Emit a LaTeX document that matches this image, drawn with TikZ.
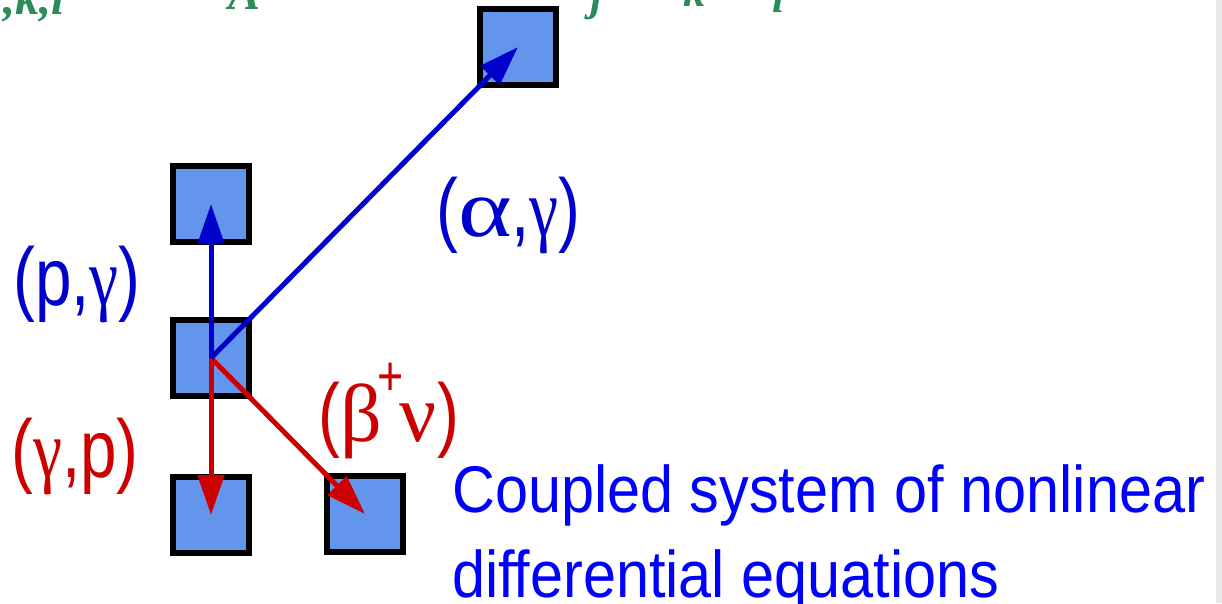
\documentclass[tikz,border=0pt]{standalone}
\usepackage{fontspec}
\setmainfont{Liberation Sans}
\newfontfamily\lab[FakeStretch=0.8]{Liberation Sans}
\newfontfamily\txt[FakeStretch=0.9]{Liberation Sans}
\newfontfamily\grk{Liberation Serif}
\newfontfamily\grkg[FakeStretch=0.8]{Liberation Serif}
\newfontfamily\grka[FakeStretch=1.25]{Liberation Serif}
\newfontfamily\grn{Liberation Serif}
\usetikzlibrary{arrows.meta}
\definecolor{boxfill}{HTML}{6495ED}
\definecolor{lblue}{HTML}{0000CC}
\definecolor{tblue}{HTML}{0000FF}
\definecolor{lred}{HTML}{CC0000}
\definecolor{lgreen}{HTML}{2E8B57}
\tikzset{
  nucbox/.style={draw=black, line width=6pt, fill=boxfill, minimum size=76pt, inner sep=0pt},
  bluearrow/.style={draw=lblue, line width=5pt, -{Triangle[length=40pt,width=26pt]}},
  redarrow/.style={draw=lred, line width=5pt, -{Triangle[length=40pt,width=26pt]}},
  lbl/.style={inner sep=0pt, anchor=base west, font=\lab\fontsize{82}{90}\selectfont},
  ctext/.style={inner sep=0pt, anchor=base west, text=tblue, font=\txt\fontsize{66}{70}\selectfont},
  grtext/.style={inner sep=0pt, anchor=base west, text=lgreen, font=\grn\bfseries\itshape\fontsize{48}{50}\selectfont},
  grtexts/.style={grtext, font=\grn\bfseries\itshape\fontsize{44}{46}\selectfont},
}
\begin{document}
\begin{tikzpicture}[x=1pt,y=-1pt]
\clip (0,0) rectangle (1222,603);
\fill[white] (0,0) rectangle (1222,603);
\fill[gray!18] (1216,0) rectangle (1222,603);
% green cut-off formula at the top
\node[grtext] (g1) at (3,14) {,k,l};
\node[grtext] (g2) at (228,9) {A};
\node[grtexts] (g3) at (590,10) {j};
\node[grtexts] (g4) at (683,6) {k};
\node[grtexts] (g5) at (772,12) {l};
% boxes
\node[nucbox] (b1) at (518,47) {};
\node[nucbox] (b2) at (211,204) {};
\node[nucbox] (b3) at (211,358) {};
\node[nucbox] (b4) at (211,515) {};
\node[nucbox] (b5) at (365,514) {};
% arrows
\draw[redarrow] (b3.center) -- (b4.center);
\draw[redarrow] (b3.center) -- (b5.center);
\draw[bluearrow] (b3.center) -- (b2.center);
\draw[bluearrow] (b3.center) -- (b1.center);
% labels
\node[lbl, text=lblue] (l1) at (13,305) {(p,{\grkg γ})};
\node[lbl, text=lred] (l2) at (11,477) {({\grkg γ},p)};
\node[lbl, text=lblue] (l3) at (436,236) {({\grka α},{\grkg γ})};
\node[lbl, text=lred] (l4) at (318,441) {({\grk β}\kern-4pt\raisebox{46pt}{\fontsize{56}{56}\selectfont +}\kern-4pt{\grk ν})};
\node[ctext] (t1) at (452,512) {Coupled system of nonlinear};
\node[ctext] (t2) at (452,597) {differential equations};
\end{tikzpicture}
\end{document}
